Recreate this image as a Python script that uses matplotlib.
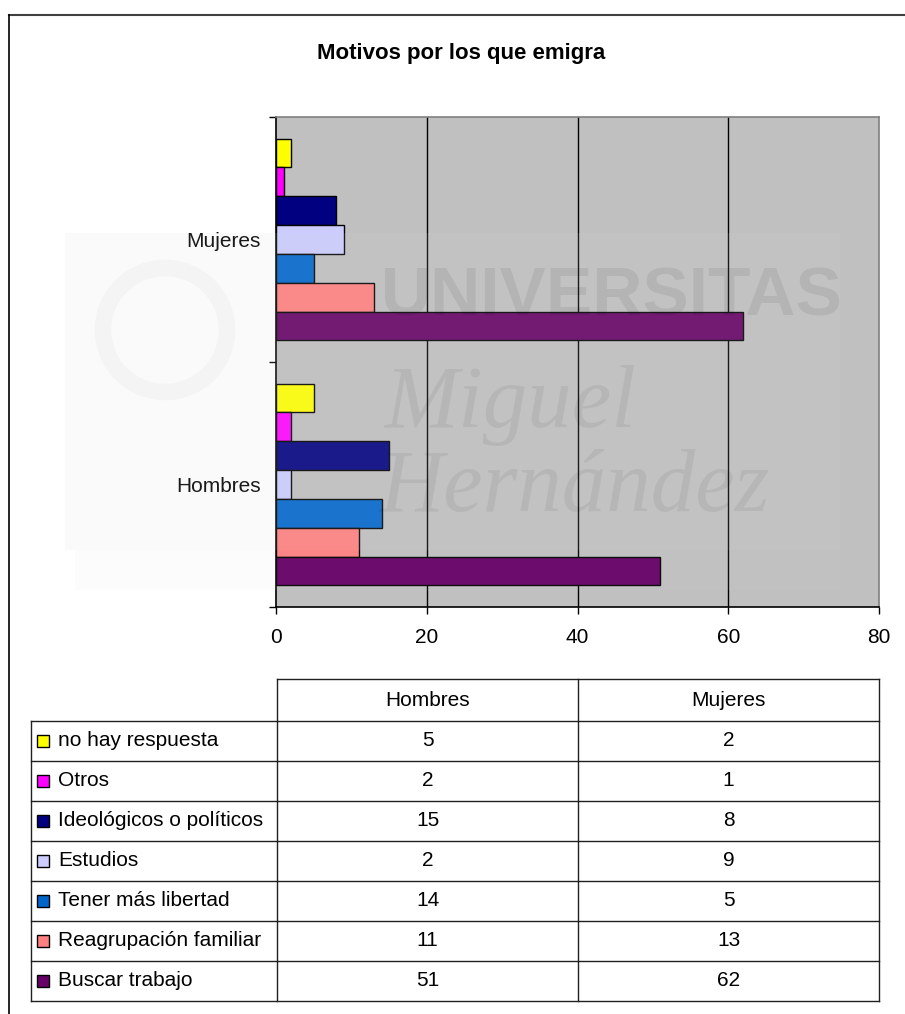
import numpy as np
import matplotlib.pyplot as plt
from matplotlib.patches import Rectangle, Circle

plt.rcParams['font.family'] = ['Liberation Sans', 'DejaVu Sans']

# datos
grupos = ['Hombres', 'Mujeres']
motivos = ['no hay respuesta', 'Otros', 'Ideológicos o políticos', 'Estudios',
           'Tener más libertad', 'Reagrupación familiar', 'Buscar trabajo']
hombres = [5, 2, 15, 2, 14, 11, 51]
mujeres = [2, 1, 8, 9, 5, 13, 62]
colores = ['#FFFF00', '#FF00FF', '#000080', '#CCCCFF', '#0066CC', '#FF8080', '#660066']
xticks = [0, 20, 40, 60, 80]

W, H = 905, 1014
fig = plt.figure(figsize=(W / 100, H / 100), dpi=100)

# grafico de barras
ax = fig.add_axes([276 / W, 1 - 607 / H, (879 - 276) / W, (607 - 117) / H])
ax.set_facecolor('#C0C0C0')
n = len(motivos)
bh = 1 / (n + 1.5)
vals = np.array([hombres, mujeres]).T
for k in range(n):
    ypos = np.arange(len(grupos)) + (3 - k) * bh
    ax.barh(ypos, vals[k], height=bh, color=colores[k], edgecolor='black',
            linewidth=1.0, zorder=3)

ax.set_xlim(xticks[0], xticks[-1])
ax.set_ylim(-0.5, len(grupos) - 0.5)
ax.set_xticks(xticks)
ax.set_xticklabels([str(t) for t in xticks], fontsize=15)
ax.set_yticks(np.arange(len(grupos)))
ax.set_yticklabels(grupos, fontsize=15)
ax.set_yticks(np.arange(len(grupos) + 1) - 0.5, minor=True)
ax.tick_params(axis='y', which='major', length=0, pad=11)
ax.tick_params(axis='y', which='minor', length=5, width=1, direction='out')
ax.tick_params(axis='x', length=5, width=1, direction='out', pad=10)
for t in xticks[1:-1]:
    ax.axvline(t, color='black', linewidth=1.0, zorder=1)
ax.spines['left'].set_color('black')
ax.spines['bottom'].set_color('black')
ax.spines['top'].set_color('#808080')
ax.spines['right'].set_color('#808080')
for s in ax.spines.values():
    s.set_linewidth(1.2)

# capa superior: titulo, marco, tabla y marca de agua
ov = fig.add_axes([0, 0, 1, 1], facecolor='none')
ov.set_xlim(0, W)
ov.set_ylim(H, 0)
ov.axis('off')

ov.plot([9, W], [15, 15], color='#404040', linewidth=1.5)
ov.plot([9, 9], [15, H], color='black', linewidth=1.2)
ov.text(461, 54, 'Motivos por los que emigra', fontsize=16, fontweight='bold',
        ha='center', va='center')

# marca de agua
ov.add_patch(Rectangle((65, 233), 775, 317, facecolor='#D8D8D8', alpha=0.12,
                       edgecolor='none', zorder=5))
ov.add_patch(Rectangle((75, 550), 765, 40, facecolor='#D8D8D8', alpha=0.06,
                       edgecolor='none', zorder=5))
ov.add_patch(Circle((165, 330), 62, facecolor='none', edgecolor='#000000',
                    alpha=0.025, linewidth=12, zorder=5))
ov.text(612, 297, 'UNIVERSITAS', fontsize=50, fontweight='bold', ha='center',
        va='center', color='black', alpha=0.07, zorder=6)
ov.text(510, 405, 'Miguel', fontsize=64, fontstyle='italic', family='Liberation Serif',
        ha='center', va='center', color='black', alpha=0.06, zorder=6)
ov.text(575, 490, 'Hernández', fontsize=64, fontstyle='italic', family='Liberation Serif',
        ha='center', va='center', color='black', alpha=0.06, zorder=6)

# tabla de datos
cols = [31, 277, 578, 879]
head_top = 679
rows = np.linspace(721, 1001, n + 1)
lc = '#202020'
ov.plot([cols[1], cols[3]], [head_top, head_top], color=lc, linewidth=1)
for x in cols[1:]:
    ov.plot([x, x], [head_top, rows[-1]], color=lc, linewidth=1)
ov.plot([cols[0], cols[0]], [rows[0], rows[-1]], color=lc, linewidth=1)
for y in rows:
    ov.plot([cols[0], cols[3]], [y, y], color=lc, linewidth=1)
for j, g in enumerate(grupos):
    ov.text((cols[j + 1] + cols[j + 2]) / 2, (head_top + rows[0]) / 2, g,
            fontsize=15, ha='center', va='center')
for k in range(n):
    yc = (rows[k] + rows[k + 1]) / 2
    ov.add_patch(Rectangle((37, yc - 6), 12, 12, facecolor=colores[k],
                           edgecolor='black', linewidth=1))
    ov.text(58, yc, motivos[k], fontsize=15, ha='left', va='center')
    ov.text((cols[1] + cols[2]) / 2, yc, str(hombres[k]), fontsize=15,
            ha='center', va='center')
    ov.text((cols[2] + cols[3]) / 2, yc, str(mujeres[k]), fontsize=15,
            ha='center', va='center')

plt.savefig('out.png', dpi=100)
